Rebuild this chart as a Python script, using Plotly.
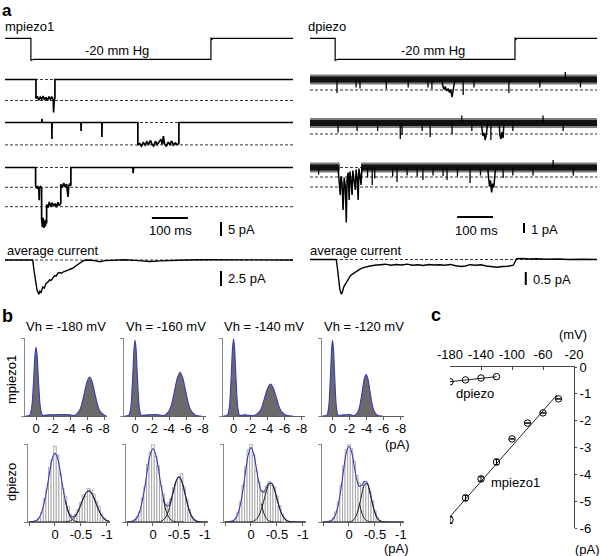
import plotly.graph_objects as go

W, H = 600, 556
FONT = "Arial, 'Liberation Sans', sans-serif"

# ---------------- panel a data (time in ms, current in pA, pressure in mmHg) ----------------
PRESSURE = [(-72, 0), (0, 0), (0, -21), (3, -20.4), (8, -20), (500, -20), (500, 0.8), (502, -1.4), (505, 0), (728, 0)]

M1_TRACE = [(-72, 0), (14, 0), (14, -6.8), (18, -6.0), (22, -7.4), (26, -6.3), (30, -7.0), (34, -5.9), (38, -7.3),
            (42, -6.4), (46, -7.6), (50, -6.1), (54, -7.0), (58, -6.3), (62, -7.2), (63, -11.8), (64.5, -7.4),
            (66.7, -6.6), (66.7, 0), (728, 0)]
M1_LEVELS = [0, -7.5]

M2_TRACE = [(-72, 0), (30, 0), (30.6, 1.3), (31.2, 0), (58, 0), (58.3, -5.9), (58.8, 0), (139, 0), (139.3, -3.0),
            (139.8, 0), (197, 0), (197.3, -5.2), (197.8, 0), (297, 0), (297, -8.1), (302, -7.5), (307, -8.4),
            (312, -7.2), (317, -8.0), (322, -6.9), (327, -7.8), (332, -6.4), (336, -7.7), (341, -8.4), (346, -6.7),
            (351, -7.9), (356, -7.1), (361, -6.0), (365, -7.8), (368, -4.9), (371, -7.6), (376, -8.5), (381, -7.0),
            (386, -7.9), (391, -6.6), (396, -8.1), (401, -7.3), (406, -7.9), (411, -7.5), (411, 0), (728, 0)]
M2_LEVELS = [0, -8.0]

M3_TRACE = [(-72, 0), (13, 0), (13, -6.5), (16, -7.5), (19, -6.6), (22, -8.0), (23, -11.7), (24, -7.2), (27, -6.8),
            (29.7, -7.4), (29.7, -18.5), (32, -21.3), (34, -18.0), (36, -21.6), (38, -19.0), (40, -21.0),
            (42, -18.6), (43.6, -20.0), (43.6, -13.2), (47, -14.4), (51, -12.3), (55, -14.0), (59, -12.6),
            (63, -13.8), (67, -12.9), (71, -14.2), (75, -12.4), (79, -13.6), (83, -12.8), (83, -6.0), (87, -7.2),
            (91, -5.6), (95, -6.9), (99, -5.9), (103, -10.5), (105, -6.6), (108, -5.8), (111, -6.5), (111, 0),
            (283, 0), (284, -2.0), (285, 0), (728, 0)]
M3_LEVELS = [0, -7.07, -14.0]

M_AVG = [(-72, 0), (5, 0), (8, -1.5), (12, -3.5), (17, -5.0), (22, -5.7), (25, -5.2), (28, -5.4), (33, -4.5),
         (37, -4.7), (42, -3.9), (47, -3.7), (52, -3.3), (56, -3.4), (61, -3.0), (66, -2.6), (70, -2.7), (75, -2.2),
         (80, -2.1), (85, -2.2), (89, -2.0), (95, -1.9), (103, -1.7), (110, -1.5), (117, -1.35), (124, -1.0),
         (131, -0.7), (138, -0.4), (144, -0.2), (150, -0.05), (164, 0), (180, -0.15), (192, -0.3), (205, -0.1),
         (230, 0), (260, 0.05), (300, -0.1), (330, -0.25), (360, -0.15), (390, -0.05), (430, 0), (480, 0.05),
         (560, 0), (620, -0.05), (728, 0)]

D1_SPIKES = [(5, -1.35), (58, -0.8), (69, -0.9), (142, -0.95), (203, -0.8), (258, -0.8), (269, -0.95),
             (356, -1.55), (386, -0.8), (483, -1.35), (569, -0.8), (640, 0.75), (682, -0.8)]
D1_EVENTS = [[(297, 0), (299, -0.6), (303, -1.0), (306, -0.7), (310, -1.15), (314, -0.9), (318, -1.3), (321, -1.0),
              (325, -1.75), (328, -1.2), (331, -0.6), (333, 0)]]
D1_LEVELS = [0, -1.05]

D2_SPIKES = [(8, -0.95), (61, -0.8), (118, -0.8), (181, -1.6), (186, -1.2), (242, -0.8), (264, -1.4),
             (325, -1.1), (352, 0.75), (380, -0.8), (433, -1.7), (494, -0.8), (578, 0.75), (634, -0.8)]
D2_EVENTS = [[(406, 0), (408, -0.8), (411, -1.3), (414, -1.0), (417, -1.7), (420, -1.2), (422, -0.5), (424, 0)],
             [(456, 0), (458, -1.2), (461, -1.6), (464, -0.9), (467, -1.5), (469, 0)]]
D2_LEVELS = [0, -1.1]

D3_SPIKES = [(-46, -0.7), (90, -1.0), (103, -1.75), (110, -1.1), (160, -0.9), (172, -1.45), (200, -0.8),
             (228, -0.9), (244, -1.25), (272, -0.8), (300, -0.85), (311, -1.25), (340, -0.9), (375, -1.55),
             (404, -0.8), (467, -1.05), (494, -0.8), (550, -0.8), (606, 0.75), (662, -0.8)]
D3_EVENTS = [[(8, 0), (10, -0.8), (12, -1.2), (14, -2.75), (16, -0.9), (19, -1.5), (22, -4.25), (25, -1.0),
              (28, -1.8), (31, -5.5), (33, -1.2), (36, -0.5), (39, -3.25), (41, -0.4), (44, -1.3), (47, -2.75),
              (49, -0.3), (52, -1.0), (56, -2.25), (58, -0.2), (61, -1.0), (64, -3.25), (66, -0.1), (69, -0.8),
              (72, -1.75), (74, -0.3), (76, 0)],
             [(424, 0), (426, -1.0), (429, -1.9), (432, -1.3), (435, -2.5), (438, -1.6), (441, -2.0), (444, -0.8),
              (446, 0)]]
D3_BAND_GAP = (12, 72)
D3_LEVELS = [0, -0.95, -1.95]

D_AVG = [(-70, 0), (3, 0), (6, -0.3), (9, -0.8), (13, -1.15), (17, -1.33), (20, -1.25), (24, -1.05), (28, -0.95),
         (33, -0.8), (38, -0.7), (42, -0.63), (48, -0.56), (56, -0.48), (62, -0.42), (69, -0.37), (76, -0.32),
         (83, -0.29), (90, -0.27), (97, -0.25), (110, -0.22), (125, -0.21), (140, -0.18), (155, -0.22),
         (170, -0.19), (185, -0.21), (200, -0.18), (215, -0.22), (230, -0.2), (245, -0.23), (260, -0.19),
         (275, -0.21), (290, -0.2), (305, -0.22), (320, -0.19), (335, -0.24), (350, -0.27), (362, -0.25),
         (375, -0.2), (390, -0.22), (405, -0.2), (420, -0.25), (435, -0.28), (450, -0.3), (465, -0.27),
         (480, -0.26), (495, -0.22), (500, -0.1), (505, 0.03), (520, 0.04), (540, 0.02), (560, 0.03), (590, 0.01),
         (620, 0.02), (650, 0.0), (690, 0.01), (728, 0)]

# ---------------- panel b data ----------------
VH_TITLES = ["Vh = -180 mV", "Vh = -160 mV", "Vh = -140 mV", "Vh = -120 mV"]

# mpiezo1 amplitude histograms (pA, normalised count)
MP_HIST_X = [
    [1.2, 0.75, 0.5, 0.375, 0.25, 0.125, 0, -0.125, -0.25, -0.375, -0.5, -0.75, -1.5, -3.0, -4.0,
     -4.5, -5.1, -5.4, -5.7, -6.0, -6.3, -6.6, -6.9, -7.2, -7.5, -8.1, -8.3],
    [1.2, 0.72, 0.48, 0.36, 0.24, 0.12, 0, -0.12, -0.24, -0.36, -0.48, -0.72, -1.5, -2.6,
     -3.44, -4.06, -4.37, -4.68, -4.99, -5.3, -5.61, -5.92, -6.23, -6.54, -7.16, -7.8],
    [1.2, 0.72, 0.48, 0.36, 0.24, 0.12, 0, -0.12, -0.24, -0.36, -0.48, -0.72, -1.4,
     -2.4, -3.05, -3.375, -3.7, -4.025, -4.35, -4.675, -5.0, -5.325, -5.65, -6.3, -7.0],
    [1.2, 0.66, 0.44, 0.33, 0.22, 0.11, 0, -0.11, -0.22, -0.33, -0.44, -0.66, -1.3, -2.0,
     -2.6, -3.05, -3.275, -3.5, -3.725, -3.95, -4.175, -4.4, -4.625, -4.85, -5.3, -5.9],
]
MP_HIST_Y = [
    [0, 0.01, 0.12, 0.29, 0.53, 0.78, 0.88, 0.78, 0.53, 0.29, 0.12, 0.01, 0.015, 0.02, 0.015,
     0.006, 0.068, 0.16, 0.30, 0.44, 0.50, 0.44, 0.30, 0.16, 0.068, 0.006, 0],
    [0, 0.011, 0.13, 0.32, 0.59, 0.86, 0.97, 0.86, 0.59, 0.32, 0.13, 0.011, 0.015, 0.02,
     0.006, 0.076, 0.18, 0.34, 0.49, 0.56, 0.49, 0.34, 0.18, 0.076, 0.006, 0],
    [0, 0.011, 0.13, 0.32, 0.60, 0.87, 0.99, 0.87, 0.60, 0.32, 0.13, 0.011, 0.015,
     0.005, 0.055, 0.13, 0.25, 0.36, 0.41, 0.36, 0.25, 0.13, 0.055, 0.005, 0],
    [0, 0.011, 0.13, 0.32, 0.59, 0.86, 0.97, 0.86, 0.59, 0.32, 0.13, 0.011, 0.015, 0.02,
     0.006, 0.072, 0.17, 0.32, 0.47, 0.53, 0.47, 0.32, 0.17, 0.072, 0.006, 0],
]
MP_TICKS = [0, -2, -4, -6, -8]
MP_TICKTEXT = ["0", "-2", "-4", "-6", "-8"]

# dpiezo amplitude histograms: bin centres (pA), bar heights, fitted curves
DP_BINS = [0.5, 0.45, 0.4, 0.35, 0.3, 0.25, 0.2, 0.15, 0.1, 0.05, 0, -0.05, -0.1, -0.15, -0.2, -0.25, -0.3,
           -0.35, -0.4, -0.45, -0.5, -0.55, -0.6, -0.65, -0.7, -0.75, -0.8, -0.85, -0.9, -0.95, -1.0, -1.05]
DP_BARS = [
    [0, 0, 0.01, 0.02, 0.05, 0.12, 0.30, 0.42, 0.70, 0.80, 0.97, 0.86, 0.62, 0.43, 0.33, 0.20, 0.10,
     0.07, 0.10, 0.16, 0.25, 0.35, 0.33, 0.43, 0.41, 0.36, 0.27, 0.20, 0.10, 0.05, 0.02, 0],
    [0, 0, 0.01, 0.03, 0.07, 0.13, 0.31, 0.45, 0.74, 0.90, 1.0, 0.84, 0.72, 0.47, 0.36, 0.22, 0.25,
     0.30, 0.44, 0.50, 0.57, 0.62, 0.45, 0.29, 0.16, 0.07, 0.03, 0.01, 0, 0, 0, 0],
    [0, 0, 0.01, 0.02, 0.05, 0.12, 0.26, 0.47, 0.71, 0.93, 1.0, 0.86, 0.66, 0.52, 0.41, 0.38, 0.46,
     0.52, 0.47, 0.45, 0.33, 0.21, 0.10, 0.05, 0.02, 0, 0, 0, 0, 0, 0, 0],
    [0, 0, 0.01, 0.02, 0.05, 0.13, 0.26, 0.47, 0.72, 0.93, 1.0, 0.94, 0.78, 0.60, 0.50, 0.47, 0.50,
     0.48, 0.40, 0.27, 0.14, 0.06, 0.02, 0, 0, 0, 0, 0, 0, 0, 0, 0],
]
DP_SUM = [
    [0, 0.002, 0.008, 0.024, 0.06, 0.14, 0.27, 0.45, 0.65, 0.82, 0.88, 0.82, 0.65, 0.45, 0.27, 0.147, 0.078,
     0.064, 0.089, 0.146, 0.225, 0.31, 0.375, 0.40, 0.375, 0.31, 0.225, 0.144, 0.081, 0.04, 0.018, 0.007],
    [0, 0.002, 0.008, 0.025, 0.066, 0.148, 0.29, 0.48, 0.70, 0.87, 0.94, 0.87, 0.70, 0.488, 0.316, 0.214, 0.21,
     0.295, 0.418, 0.532, 0.58, 0.53, 0.41, 0.27, 0.144, 0.066, 0.026, 0.008, 0.002, 0, 0, 0],
    [0, 0.001, 0.004, 0.013, 0.042, 0.108, 0.237, 0.435, 0.67, 0.87, 0.953, 0.881, 0.703, 0.515, 0.397, 0.388,
     0.442, 0.498, 0.497, 0.421, 0.30, 0.18, 0.093, 0.04, 0.014, 0.004, 0.001, 0, 0, 0, 0, 0],
    [0, 0.001, 0.004, 0.014, 0.043, 0.11, 0.242, 0.444, 0.686, 0.89, 0.972, 0.90, 0.721, 0.543, 0.457, 0.473,
     0.521, 0.504, 0.394, 0.244, 0.118, 0.044, 0.013, 0.003, 0.001, 0, 0, 0, 0, 0, 0, 0],
]
DP_COMP2 = [
    [0, 0, 0, 0, 0, 0, 0, 0, 0, 0, 0, 0, 0, 0.001, 0.002, 0.007, 0.018, 0.04, 0.081, 0.144, 0.225, 0.31,
     0.375, 0.40, 0.375, 0.31, 0.225, 0.144, 0.081, 0.04, 0.018, 0.007],
    [0, 0, 0, 0, 0, 0, 0, 0, 0, 0, 0, 0, 0.002, 0.008, 0.026, 0.066, 0.144, 0.27, 0.41, 0.53, 0.58, 0.53,
     0.41, 0.27, 0.144, 0.066, 0.026, 0.008, 0.002, 0, 0, 0],
    [0, 0, 0, 0, 0, 0, 0, 0, 0, 0, 0.003, 0.011, 0.033, 0.08, 0.16, 0.28, 0.40, 0.485, 0.493, 0.42, 0.30,
     0.18, 0.093, 0.04, 0.014, 0.004, 0.001, 0, 0, 0, 0, 0],
    [0, 0, 0, 0, 0, 0, 0, 0, 0, 0, 0.002, 0.01, 0.035, 0.099, 0.215, 0.363, 0.478, 0.49, 0.39, 0.243,
     0.118, 0.044, 0.013, 0.003, 0.001, 0, 0, 0, 0, 0, 0, 0],
]
DP_COMP1_TAIL_X = [-0.2, -0.25, -0.3, -0.35, -0.4, -0.45, -0.5, -0.55, -0.6]
DP_COMP1_TAIL = [
    [0.27, 0.14, 0.06, 0.024, 0.008, 0.002, 0, 0, 0],
    [0.29, 0.148, 0.066, 0.025, 0.008, 0.002, 0, 0, 0],
    [0.237, 0.108, 0.042, 0.013, 0.004, 0.001, 0, 0, 0],
    [0.242, 0.11, 0.043, 0.014, 0.004, 0.001, 0, 0, 0],
]
DP_TICKS = [0.5, 0, -0.5, -1]
DP_TICKTEXT = ["", "0", "-0.5", "-1"]

# ---------------- panel c data (I-V) ----------------
MP_V = [-180, -160, -140, -120, -100, -80, -60, -40]
MP_I = [-5.70, -4.88, -4.17, -3.54, -2.68, -2.09, -1.71, -1.19]
MP_ERR = [0.13, 0.10, 0.08, 0.10, 0, 0, 0, 0]
MP_FIT_V = [-180, -42]
MP_FIT_I = [-5.58, -1.04]
DP_V = [-180, -160, -140, -120]
DP_I = [-0.55, -0.48, -0.41, -0.36]
IV_XTICKS = [-180, -140, -100, -60, -20]
IV_XTEXT = ["-180", "-140", "-100", "-60", "-20"]
IV_YTICKS = [0, -1, -2, -3, -4, -5, -6]
IV_YTEXT = ["0", "-1", "-2", "-3", "-4", "-5", "-6"]

# ======================= figure construction =======================
layout = dict(template="none", width=W, height=H, autosize=False, margin=dict(l=0, r=0, t=0, b=0, pad=0),
              paper_bgcolor="white", plot_bgcolor="rgba(0,0,0,0)", showlegend=False, barmode="overlay",
              font=dict(family=FONT, size=13, color="black"))
traces, shapes, annotations = [], [], []
_n = [0]


def axes(xpx, ypx, xrange, yrange, xextra=None, yextra=None):
    _n[0] += 1
    s = "" if _n[0] == 1 else str(_n[0])
    hidden = dict(visible=False, showgrid=False, zeroline=False, fixedrange=True, automargin=False)
    xa = dict(hidden, domain=[xpx[0] / W, xpx[1] / W], range=list(xrange), anchor="y" + s)
    ya = dict(hidden, domain=[1 - ypx[1] / H, 1 - ypx[0] / H], range=list(yrange), anchor="x" + s)
    if xextra:
        xa.update(xextra)
    if yextra:
        ya.update(yextra)
    layout["xaxis" + s] = xa
    layout["yaxis" + s] = ya
    return "x" + s, "y" + s


def ann(text, x, y, xanchor="left", size=13, bold=False, angle=0, yanchor="middle"):
    if bold:
        text = "<b>" + text + "</b>"
    annotations.append(dict(text=text, x=x / W, y=1 - y / H, xref="paper", yref="paper", showarrow=False,
                            xanchor=xanchor, yanchor=yanchor, textangle=angle, borderpad=0,
                            font=dict(size=size, family=FONT, color="black")))


def line(xs, ys, ax, width=1.2, color="black", dash=None, shape="linear"):
    traces.append(go.Scatter(x=list(xs), y=list(ys), xaxis=ax[0], yaxis=ax[1], mode="lines", hoverinfo="skip",
                             line=dict(width=width, color=color, dash=dash, shape=shape)))


def pairs_line(pairs, ax, width=1.2, color="black"):
    xs, ys = zip(*pairs)
    line(xs, ys, ax, width, color)


COLS = {"L": ((5, 293), (-72, 728)), "R": ((310, 597), (-70, 728))}


def row(col, base_px, ppu, top_px, bot_px):
    xpx, xr = COLS[col]
    return axes(xpx, (top_px, bot_px), xr, [(base_px - bot_px) / ppu, (base_px - top_px) / ppu])


def dashed_levels(levels, ax, col):
    xr = COLS[col][1]
    for lv in levels:
        shapes.append(dict(type="line", xref=ax[0], yref=ax[1], x0=xr[0], x1=xr[1], y0=lv, y1=lv,
                           line=dict(color="#333333", width=1, dash="3px,2px"), layer="below"))


def bar_h(ax, t0, t1, y_px):
    shapes.append(dict(type="line", xref=ax[0], yref="paper", x0=t0, x1=t1, y0=1 - y_px / H, y1=1 - y_px / H,
                       line=dict(color="black", width=2)))


def bar_v(ax, t, i0, i1):
    shapes.append(dict(type="line", xref=ax[0], yref=ax[1], x0=t, x1=t, y0=i0, y1=i1,
                       line=dict(color="black", width=2)))


# ---------- panel a ----------
for col in ("L", "R"):
    axp = row(col, 38.3, 1.05, 28, 68)
    pairs_line(PRESSURE, axp, 1.2)

# left (mpiezo1)
ax = row("L", 79.5, 2.8, 68, 118)
dashed_levels(M1_LEVELS, ax, "L")
pairs_line(M1_TRACE, ax, 1.7)
ax = row("L", 122.5, 2.8, 110, 152)
dashed_levels(M2_LEVELS, ax, "L")
pairs_line(M2_TRACE, ax, 1.7)
ax3 = row("L", 167.5, 2.8, 155, 242)
dashed_levels(M3_LEVELS, ax3, "L")
pairs_line(M3_TRACE, ax3, 1.7)
bar_h(ax3, 336, 436, 218)
bar_v(ax3, 528, -19.5, -24.5)
axa = row("L", 260, 6.0, 250, 300)
dashed_levels([0], axa, "L")
pairs_line(M_AVG, axa, 1.4)
bar_v(axa, 528, -1.85, -4.35)


# right (dpiezo)
def noisy_trace(ax, spikes, events, gap=None):
    xr = COLS["R"][1]
    if gap:
        bx, by = [xr[0], gap[0], None, gap[1], xr[1]], [0, 0, None, 0, 0]
    else:
        bx, by = [xr[0], xr[1]], [0, 0]
    line(bx, by, ax, 10, "rgba(20,20,20,0.55)")
    line(bx, by, ax, 6, "#111111")
    sx, sy = [], []
    for t, v in spikes:
        sx += [t, t, None]
        sy += [0, v, None]
    line(sx, sy, ax, 1.3, "black")
    for ev in events:
        pairs_line(ev, ax, 1.5)


ax = row("R", 79.5, 10, 66, 102)
dashed_levels(D1_LEVELS, ax, "R")
noisy_trace(ax, D1_SPIKES, D1_EVENTS)
ax = row("R", 123, 10, 110, 146)
dashed_levels(D2_LEVELS, ax, "R")
noisy_trace(ax, D2_SPIKES, D2_EVENTS)
axr3 = row("R", 167.5, 10, 154, 242)
dashed_levels(D3_LEVELS, axr3, "R")
noisy_trace(axr3, D3_SPIKES, D3_EVENTS, D3_BAND_GAP)
bar_h(axr3, 339, 439, 217)
bar_v(axr3, 525, -5.55, -6.55)
axra = row("R", 259.5, 26, 250, 300)
dashed_levels([0], axra, "R")
pairs_line(D_AVG, axra, 1.4)
bar_v(axra, 530, -0.48, -0.98)

ann("a", 1, 0, bold=True, size=17, yanchor="top")
ann("mpiezo1", 4, 26)
ann("dpiezo", 307, 26)
ann("-20 mm Hg", 117, 50, xanchor="center")
ann("-20 mm Hg", 433, 50, xanchor="center")
ann("100 ms", 170, 230, xanchor="center")
ann("100 ms", 476, 230, xanchor="center")
ann("5 pA", 227, 229)
ann("1 pA", 530, 229)
ann("average current", 6, 250)
ann("average current", 309, 250)
ann("2.5 pA", 227, 278)
ann("0.5 pA", 532, 279)

# ---------- panel b ----------
MP_X0 = [25, 124, 222.5, 321.5]
DP_X0 = [28, 126, 224, 322]
hist_x_common = dict(visible=True, showline=True, linecolor="#606060", linewidth=1, ticks="outside", ticklen=3,
                     tickcolor="#606060", tickfont=dict(size=13, color="black"), showgrid=False, zeroline=False,
                     ticklabelstandoff=-3)
hist_y_common = dict(visible=True, showline=True, linecolor="#8a8a8a", linewidth=1, ticks="outside", ticklen=3,
                     tickcolor="#8a8a8a", tickvals=[0, 1], showticklabels=False, showgrid=False, zeroline=False)
for k in range(4):
    axm = axes((MP_X0[k], MP_X0[k] + 82), (338, 416), [1.3, -8.35], [0, 1.0],
               dict(hist_x_common, tickvals=MP_TICKS, ticktext=MP_TICKTEXT), dict(hist_y_common))
    traces.append(go.Scatter(x=MP_HIST_X[k], y=MP_HIST_Y[k], xaxis=axm[0], yaxis=axm[1], mode="lines",
                             fill="tozeroy", fillcolor="#6a6a6a", hoverinfo="skip",
                             line=dict(color="#3a3ab4", width=1.1, shape="spline", smoothing=0.7)))
    axd = axes((DP_X0[k], DP_X0[k] + 82), (444, 522), [0.52, -1.06], [0, 1.0],
               dict(hist_x_common, tickvals=DP_TICKS, ticktext=DP_TICKTEXT), dict(hist_y_common))
    traces.append(go.Bar(x=DP_BINS, y=DP_BARS[k], width=0.05, xaxis=axd[0], yaxis=axd[1], hoverinfo="skip",
                         marker=dict(color="white", line=dict(color="#9a9a9a", width=0.8))))
    line(DP_BINS, DP_SUM[k], axd, 1.1, "#3a3ab4", shape="spline")
    line(DP_COMP1_TAIL_X, DP_COMP1_TAIL[k], axd, 1.0, "#222222", shape="spline")
    line(DP_BINS, DP_COMP2[k], axd, 1.0, "#222222", shape="spline")

ann("b", 1, 316, bold=True, size=18)
for k, (title, cx) in enumerate(zip(VH_TITLES, [66, 166, 264, 364])):
    ann(title, cx, 326, xanchor="center")
ann("mpiezo1", 11, 380, xanchor="center", angle=-90)
ann("dpiezo", 11, 482, xanchor="center", angle=-90)
ann("(pA)", 397, 444, xanchor="center")
ann("(pA)", 396, 548, xanchor="center")

# ---------- panel c ----------
axc = axes((450, 574), (367, 528), [-180, -20], [-6, 0],
           dict(visible=True, side="top", showline=True, linecolor="#444444", linewidth=1, ticks="inside",
                ticklen=3, tickcolor="#444444", tickvals=IV_XTICKS, ticktext=IV_XTEXT,
                tickfont=dict(size=13, color="black"), ticklabelstandoff=2),
           dict(visible=True, side="right", showline=True, linecolor="#444444", linewidth=1, ticks="outside",
                ticklen=2, tickcolor="#444444", tickvals=IV_YTICKS, ticktext=IV_YTEXT,
                tickfont=dict(size=13, color="black")))
line(MP_FIT_V, MP_FIT_I, axc, 1.0, "#222222")
traces.append(go.Scatter(x=MP_V, y=MP_I, xaxis=axc[0], yaxis=axc[1], mode="markers", hoverinfo="skip",
                         marker=dict(symbol="circle-open", size=6.5, color="black", line=dict(width=1)),
                         error_y=dict(type="data", array=MP_ERR, color="black", thickness=1, width=2.5)))
traces.append(go.Scatter(x=DP_V, y=DP_I, xaxis=axc[0], yaxis=axc[1], mode="lines+markers", hoverinfo="skip",
                         line=dict(color="#222222", width=1),
                         marker=dict(symbol="circle-open", size=6.5, color="black", line=dict(width=1))))
ann("c", 430, 315, bold=True, size=18)
ann("(mV)", 573, 334, xanchor="center")
ann("(pA)", 587, 549, xanchor="center")
ann("dpiezo", 475, 393, xanchor="center")
ann("mpiezo1", 515, 482, xanchor="center")

layout["shapes"] = shapes
layout["annotations"] = annotations
fig = go.Figure(data=traces, layout=layout)
fig.write_html("out.html", config={"displayModeBar": False, "staticPlot": True},
               post_script="document.body.style.margin='0px';document.body.style.overflow='hidden';")
